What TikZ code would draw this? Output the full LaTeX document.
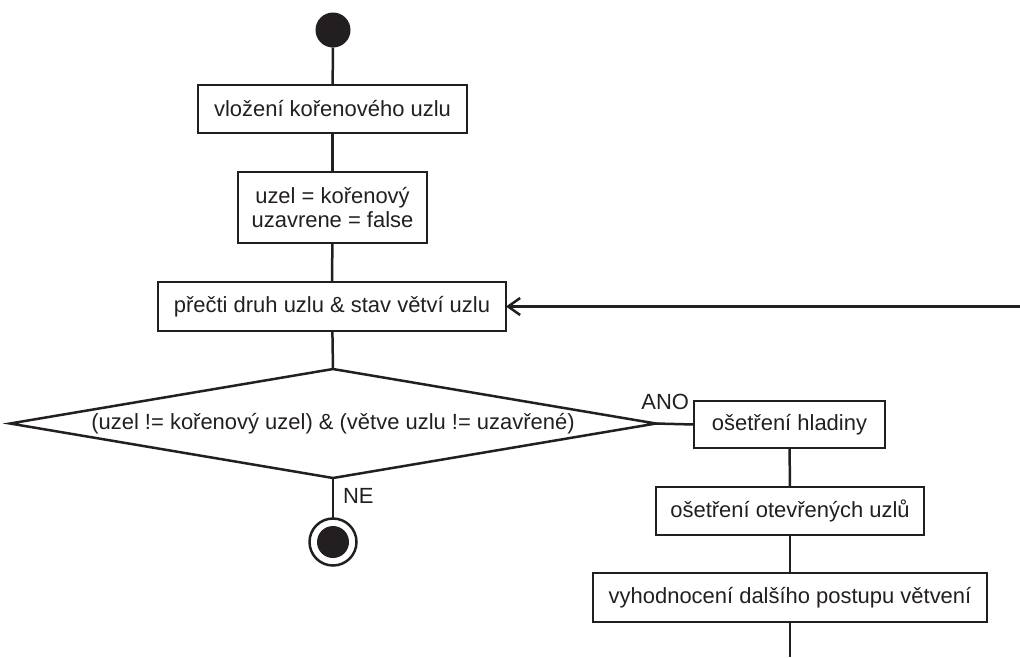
\documentclass[tikz,border=0pt]{standalone}
\usepackage{fontspec}
\setmainfont{Liberation Sans}
\usetikzlibrary{shapes.geometric,arrows.meta}
\definecolor{ink}{RGB}{35,31,32}
\begin{document}
\begin{tikzpicture}[x=0.02cm,y=-0.02cm,
  every node/.style={font=\fontsize{12.5}{13.7}\selectfont, text=ink, outer sep=0pt},
  line/.style={draw=ink, line width=0.05cm},
  actbox/.style={line, rectangle, inner sep=0pt, align=center},
  decide/.style={line, diamond, inner sep=0pt, aspect=6.3},
  startdot/.style={circle, fill=ink, inner sep=0pt, minimum size=0.7cm},
  endring/.style={line, circle, inner sep=0pt, minimum size=0.94cm},
  enddot/.style={circle, fill=ink, inner sep=0pt, minimum size=0.64cm},
  guard/.style={inner sep=0pt},
  flow/.style={line}]
\useasboundingbox (0,0) rectangle (1020,657);

% initial state
\node[startdot] (start) at (333,30) {};

% main sequence
\node[actbox, minimum width=5.38cm, minimum height=0.96cm] (insert) at (332.5,109) {vložení kořenového uzlu};
\node[actbox, minimum width=3.78cm, minimum height=1.42cm] (init) at (332.5,207.5) {uzel = kořenový\\uzavrene = false};
\node[actbox, minimum width=6.96cm, minimum height=0.98cm] (read) at (332,306.5) {přečti druh uzlu \& stav větví uzlu};

% decision
\node[decide, minimum width=12.92cm, minimum height=2.18cm] (cond) at (333,423.5) {(uzel != kořenový uzel) \& (větve uzlu != uzavřené)};

% final state
\node[endring] (final) at (333,542) {};
\node[enddot] (finaldot) at (333,542) {};

% branch taken when the condition holds
\node[actbox, minimum width=3.82cm, minimum height=0.94cm] (level) at (789.5,424.5) {ošetření hladiny};
\node[actbox, minimum width=5.36cm, minimum height=0.96cm] (open) at (790,511) {ošetření otevřených uzlů};
\node[actbox, minimum width=7.88cm, minimum height=0.98cm] (eval) at (790,597.5) {vyhodnocení dalšího postupu větvení};

% loose ends of the loop back
\coordinate (loopin) at (1020,306.5);
\coordinate (loopout) at (790,657);

% guard labels
\node[guard, anchor=base east] (yes) at (689,409) {ANO};
\node[guard, anchor=base west] (no) at (343,503) {NE};

% connectors
\draw[flow] (start) -- (insert);
\draw[flow] (insert) -- (init);
\draw[flow] (init) -- (read);
\draw[flow] (read) -- (cond.north);
\draw[flow] (cond.east) -- (level.west);
\draw[flow] (cond.south) -- (final.north);
\draw[flow] (level) -- (open);
\draw[flow] (open) -- (eval);
\draw[flow] (eval) -- (loopout);
\draw[flow, -{Straight Barb[length=0.24cm, width=0.34cm]}] (loopin) -- (read.east);
\end{tikzpicture}
\end{document}
